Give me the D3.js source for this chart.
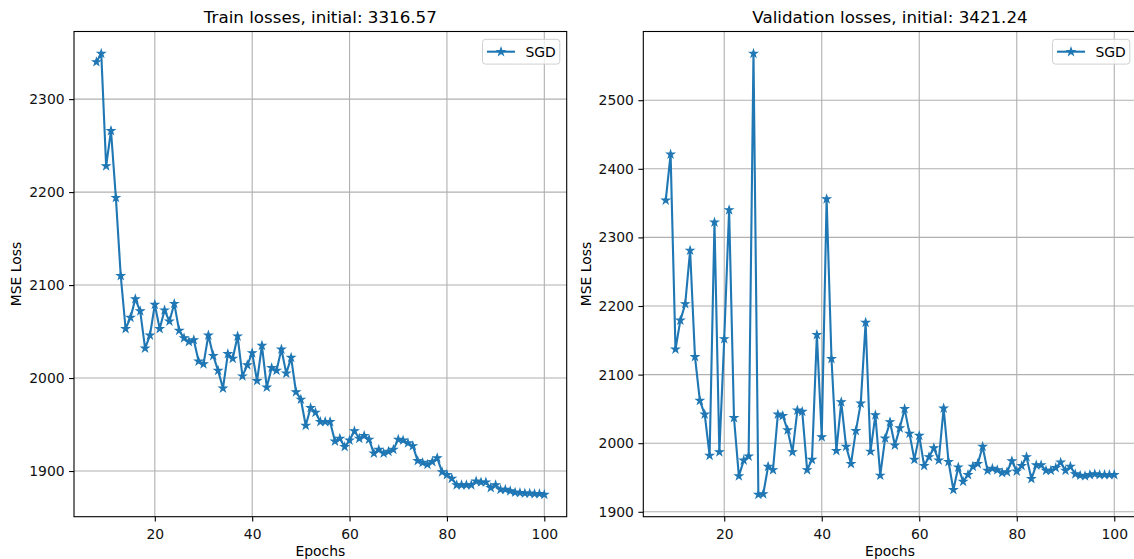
<!DOCTYPE html>
<html>
<head>
<meta charset="utf-8">
<script src="https://cdn.jsdelivr.net/npm/d3@7"></script>
<style>
  html, body { margin: 0; padding: 0; background: #fff; }
  svg { display: block; font-family: "DejaVu Sans", sans-serif; }
</style>
</head>
<body>
<svg id="fig" width="1134" height="559"></svg>
<script>
// Epochs shown on the x axis
const epochs = [8, 9, 10, 11, 12, 13, 14, 15, 16, 17, 18, 19, 20, 21, 22, 23, 24, 25, 26, 27,
  28, 29, 30, 31, 32, 33, 34, 35, 36, 37, 38, 39, 40, 41, 42, 43, 44, 45, 46, 47,
  48, 49, 50, 51, 52, 53, 54, 55, 56, 57, 58, 59, 60, 61, 62, 63, 64, 65, 66, 67,
  68, 69, 70, 71, 72, 73, 74, 75, 76, 77, 78, 79, 80, 81, 82, 83, 84, 85, 86, 87,
  88, 89, 90, 91, 92, 93, 94, 95, 96, 97, 98, 99, 100];

// SGD training MSE per epoch
const trainLoss = [2340, 2349, 2228, 2266, 2194, 2110, 2053, 2065, 2085, 2072,
  2032, 2046, 2079, 2053, 2073, 2061, 2080, 2051, 2043, 2039,
  2041, 2018, 2015, 2046, 2024, 2008, 1989, 2026, 2021, 2045,
  2002, 2014, 2027, 1997, 2035, 1990, 2011, 2008, 2031, 2005,
  2022, 1985, 1977, 1949, 1968, 1963, 1953, 1953, 1953, 1932,
  1935, 1926, 1933, 1943, 1935, 1938, 1934, 1919, 1923, 1919,
  1921, 1923, 1934, 1933, 1930, 1927, 1911, 1909, 1907, 1910,
  1914, 1899, 1896, 1892, 1885, 1885, 1885, 1885, 1889, 1888,
  1888, 1882, 1885, 1880, 1880, 1878.5, 1877, 1876.5, 1876, 1876,
  1875.5, 1875.5, 1874.6];

// SGD validation MSE per epoch
const valLoss = [2354, 2421, 2137, 2179, 2203, 2281, 2126, 2062, 2042, 1982,
  2322, 1987, 2152, 2340, 2037, 1952, 1975, 1981, 2568, 1925,
  1926, 1966, 1961, 2042, 2040, 2019, 1987, 2048, 2046, 1961,
  1976, 2158, 2009, 2356, 2123, 1989, 2060, 1995, 1970, 2018,
  2058, 2176, 1988, 2041, 1953, 2007, 2031, 1997, 2022, 2050,
  2014, 1976, 2011, 1967, 1980, 1993, 1975, 2051, 1973, 1932,
  1965, 1944, 1954, 1966, 1970, 1995, 1960, 1963, 1961, 1957,
  1958, 1974, 1959, 1967, 1980, 1948, 1968, 1968, 1960, 1960,
  1964, 1972, 1960, 1966, 1955, 1953, 1952, 1954, 1955, 1954,
  1954, 1954, 1954];

const initialTrain = "3316.57";
const initialVal = "3421.24";
const seriesName = "SGD";

const xTicks = [20, 40, 60, 80, 100];
const trainYTicks = [1900, 2000, 2100, 2200, 2300];
const valYTicks = [1900, 2000, 2100, 2200, 2300, 2400, 2500];

const BLUE = "#1f77b4";
const GRID = "#b0b0b0";
const svg = d3.select("#fig");

// 5-pointed star like matplotlib's '*' marker
function starPath(r) {
  const inner = r * 0.381966;
  const pts = [];
  for (let i = 0; i < 10; i++) {
    const a = -Math.PI / 2 + i * Math.PI / 5;
    const rr = i % 2 === 0 ? r : inner;
    pts.push([rr * Math.cos(a), rr * Math.sin(a)]);
  }
  return "M" + pts.map(p => p[0].toFixed(2) + "," + p[1].toFixed(2)).join("L") + "Z";
}
const STAR = starPath(4.0);

function padded(ext) {
  const m = (ext[1] - ext[0]) * 0.05;
  return [ext[0] - m, ext[1] + m];
}

function panel(opts) {
  const { left, right, top, bottom, values, yTicks, title, ylabelX } = opts;
  const g = svg.append("g");

  const x = d3.scaleLinear().domain(padded(d3.extent(epochs))).range([left, right]);
  const y = d3.scaleLinear().domain(padded(d3.extent(values))).range([bottom, top]);

  // grid
  g.append("g").selectAll("line.vx").data(xTicks).join("line")
    .attr("x1", d => x(d)).attr("x2", d => x(d))
    .attr("y1", top).attr("y2", bottom)
    .attr("stroke", GRID).attr("stroke-width", 1.1);
  g.append("g").selectAll("line.hy").data(yTicks).join("line")
    .attr("x1", left).attr("x2", right)
    .attr("y1", d => y(d)).attr("y2", d => y(d))
    .attr("stroke", GRID).attr("stroke-width", 1.1);

  // axes
  const xAxis = d3.axisBottom(x).tickValues(xTicks).tickFormat(d3.format("d"))
    .tickSizeInner(4.9).tickSizeOuter(0).tickPadding(4.5);
  const yAxis = d3.axisLeft(y).tickValues(yTicks).tickFormat(d3.format("d"))
    .tickSizeInner(4.9).tickSizeOuter(0).tickPadding(4.5);

  const gx = g.append("g").attr("transform", `translate(0,${bottom})`).call(xAxis);
  const gy = g.append("g").attr("transform", `translate(${left},0)`).call(yAxis);
  [gx, gy].forEach(a => {
    a.select(".domain").remove();
    a.selectAll(".tick line").attr("stroke", "#000").attr("stroke-width", 1.1);
    a.selectAll(".tick text").attr("fill", "#111").attr("font-size", "13.9px")
      .attr("font-family", "DejaVu Sans");
  });
  gx.selectAll(".tick text").attr("dy", "0.95em");

  // line + markers
  const pts = epochs.map((e, i) => [e, values[i]]);
  const line = d3.line().x(d => x(d[0])).y(d => y(d[1]));
  g.append("path").datum(pts).attr("d", line)
    .attr("fill", "none").attr("stroke", BLUE).attr("stroke-width", 2.1)
    .attr("stroke-linejoin", "round");
  g.append("g").selectAll("path").data(pts).join("path")
    .attr("d", STAR)
    .attr("transform", d => `translate(${x(d[0])},${y(d[1])})`)
    .attr("fill", BLUE).attr("stroke", BLUE).attr("stroke-width", 1.1)
    .attr("stroke-linejoin", "miter");

  // spines
  g.append("rect").attr("x", left).attr("y", top)
    .attr("width", right - left).attr("height", bottom - top)
    .attr("fill", "none").attr("stroke", "#000").attr("stroke-width", 1.1);

  // title & labels
  g.append("text").attr("x", (left + right) / 2).attr("y", 23)
    .attr("text-anchor", "middle").attr("font-size", "16.7px").attr("fill", "#000")
    .text(title);
  g.append("text").attr("x", (left + right) / 2).attr("y", 556)
    .attr("text-anchor", "middle").attr("font-size", "13.9px").attr("fill", "#000")
    .text("Epochs");
  g.append("text")
    .attr("transform", `translate(${ylabelX},${(top + bottom) / 2}) rotate(-90)`)
    .attr("text-anchor", "middle").attr("font-size", "13.9px").attr("fill", "#000")
    .text("MSE Loss");

  // legend
  const lgRight = right - 6.9, lgTop = top + 7.8, lgW = 77.3, lgH = 24.8;
  const lg = g.append("g");
  lg.append("rect").attr("x", lgRight - lgW).attr("y", lgTop)
    .attr("width", lgW).attr("height", lgH).attr("rx", 3).attr("ry", 3)
    .attr("fill", "#fff").attr("fill-opacity", 0.8)
    .attr("stroke", "#d0d0d0").attr("stroke-width", 1);
  const ly = lgTop + lgH / 2;
  const lx0 = lgRight - lgW + 4.5;
  lg.append("line").attr("x1", lx0).attr("x2", lx0 + 28).attr("y1", ly).attr("y2", ly)
    .attr("stroke", BLUE).attr("stroke-width", 2.1);
  lg.append("path").attr("d", STAR).attr("transform", `translate(${lx0 + 14},${ly})`)
    .attr("fill", BLUE).attr("stroke", BLUE).attr("stroke-width", 1.1);
  lg.append("text").attr("x", lx0 + 38.5).attr("y", ly + 5)
    .attr("font-size", "13.9px").attr("fill", "#000").text(seriesName);
}

panel({
  left: 74, right: 566.7, top: 31.5, bottom: 516.7,
  values: trainLoss, yTicks: trainYTicks,
  title: `Train losses, initial: ${initialTrain}`, ylabelX: 21
});
panel({
  left: 643.3, right: 1136.7, top: 31.5, bottom: 516.7,
  values: valLoss, yTicks: valYTicks,
  title: `Validation losses, initial: ${initialVal}`, ylabelX: 590.5
});
</script>
</body>
</html>
